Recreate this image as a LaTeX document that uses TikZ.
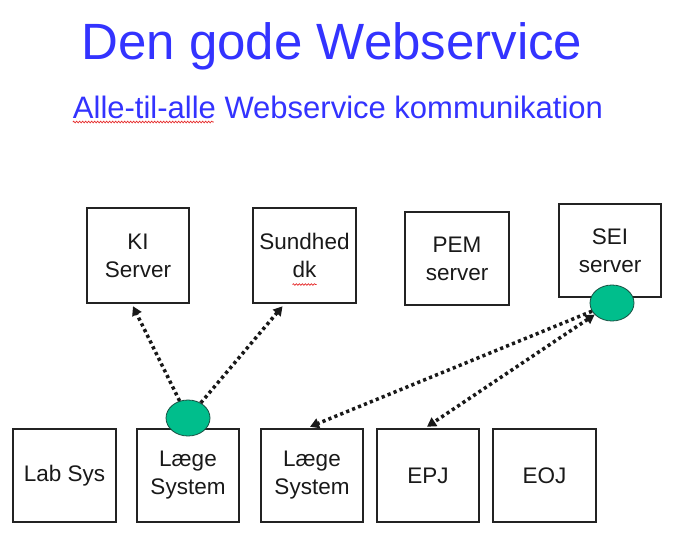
\documentclass[tikz,border=0pt]{standalone}
\usepackage{fontspec}
\setmainfont{Liberation Sans}
\usetikzlibrary{shapes.geometric,arrows.meta,calc,decorations.pathmorphing}
\definecolor{titleblue}{RGB}{51,51,255}
\definecolor{boxline}{RGB}{35,35,35}
\definecolor{nodegreen}{RGB}{0,190,140}
\definecolor{squig}{RGB}{230,40,40}
\tikzset{
  box/.style={draw=boxline, line width=2.5pt, rectangle, inner sep=0pt, align=center,
    font=\fontsize{22.5}{28}\selectfont, text=black!90},
  port/.style={ellipse, draw=boxline!70!nodegreen, line width=0.8pt, fill=nodegreen,
    minimum width=44pt, minimum height=36pt, inner sep=0pt},
  dotlink/.style={line width=3.5pt, dash pattern=on 3.2pt off 3.2pt, draw=black!90,
    -{Triangle[length=9pt,width=10pt]}},
  dotlinkboth/.style={line width=3.5pt, dash pattern=on 3.2pt off 3.2pt, draw=black!90,
    {Triangle[length=9pt,width=10pt]}-{Triangle[length=9pt,width=10pt]}},
  spell/.style={draw=squig, line width=0.7pt, decorate,
    decoration={snake, segment length=3pt, amplitude=0.8pt}},
  ttl/.style={font=\fontsize{51}{56}\selectfont, text=titleblue, inner sep=0pt, anchor=base},
  subttl/.style={font=\fontsize{31}{36}\selectfont, text=titleblue, inner sep=0pt, anchor=base}
}
\begin{document}
\begin{tikzpicture}[x=1pt,y=-1pt]
\useasboundingbox[fill=white] (0,0) rectangle (676,554);

\node[ttl] (title) at (332,59) {Den gode Webservice};
\node[subttl] (sub) at (338,118) {Alle-til-alle Webservice kommunikation};
\coordinate (sqA) at ($(sub.base west)+(0,4)$);
\coordinate (sqB) at ($(sub.base west)+(141,4)$);
\draw[spell] (sqA) -- (sqB);

% top row
\node[box, minimum width=102pt, minimum height=95pt] (ki) at (138,255.5) {KI\\Server};
\node[box, minimum width=103pt, minimum height=95pt] (sund) at (304.5,255.5) {Sundhed\\dk};
\node[box, minimum width=104pt, minimum height=93pt] (pem) at (457,258.5) {PEM\\server};
\node[box, minimum width=102pt, minimum height=93pt] (sei) at (610,250.5) {SEI\\server};

\coordinate (dkA) at ($(sund.center)+(-12,29)$);
\coordinate (dkB) at ($(sund.center)+(12,29)$);
\draw[spell] (dkA) -- (dkB);

% bottom row
\node[box, minimum width=103pt, minimum height=93pt] (lab) at (64.5,475.5) {Lab Sys};
\node[box, minimum width=102pt, minimum height=93pt] (lg1) at (188,475.5) {Læge\\System};
\node[box, minimum width=102pt, minimum height=93pt] (lg2) at (312,475.5) {Læge\\System};
\node[box, minimum width=102pt, minimum height=93pt] (epj) at (428,475.5) {EPJ};
\node[box, minimum width=103pt, minimum height=93pt] (eoj) at (544.5,475.5) {EOJ};

% ports
\node[port] (p1) at (188,418) {};
\node[port] (p2) at (612,303) {};

% link end points
\coordinate (kiT) at ($(ki.south)+(-5,2)$);
\coordinate (sundT) at ($(sund.south)+(-22,2)$);
\coordinate (lg2T) at ($(lg2.north)+(-2,-1)$);
\coordinate (epjT) at ($(epj.north)+(-1,-1)$);

\draw[dotlink] (p1) -- (kiT);
\draw[dotlink] (p1) -- (sundT);
\draw[dotlink] (p2) -- (lg2T);
\draw[dotlinkboth] (p2) -- (epjT);
\end{tikzpicture}
\end{document}
